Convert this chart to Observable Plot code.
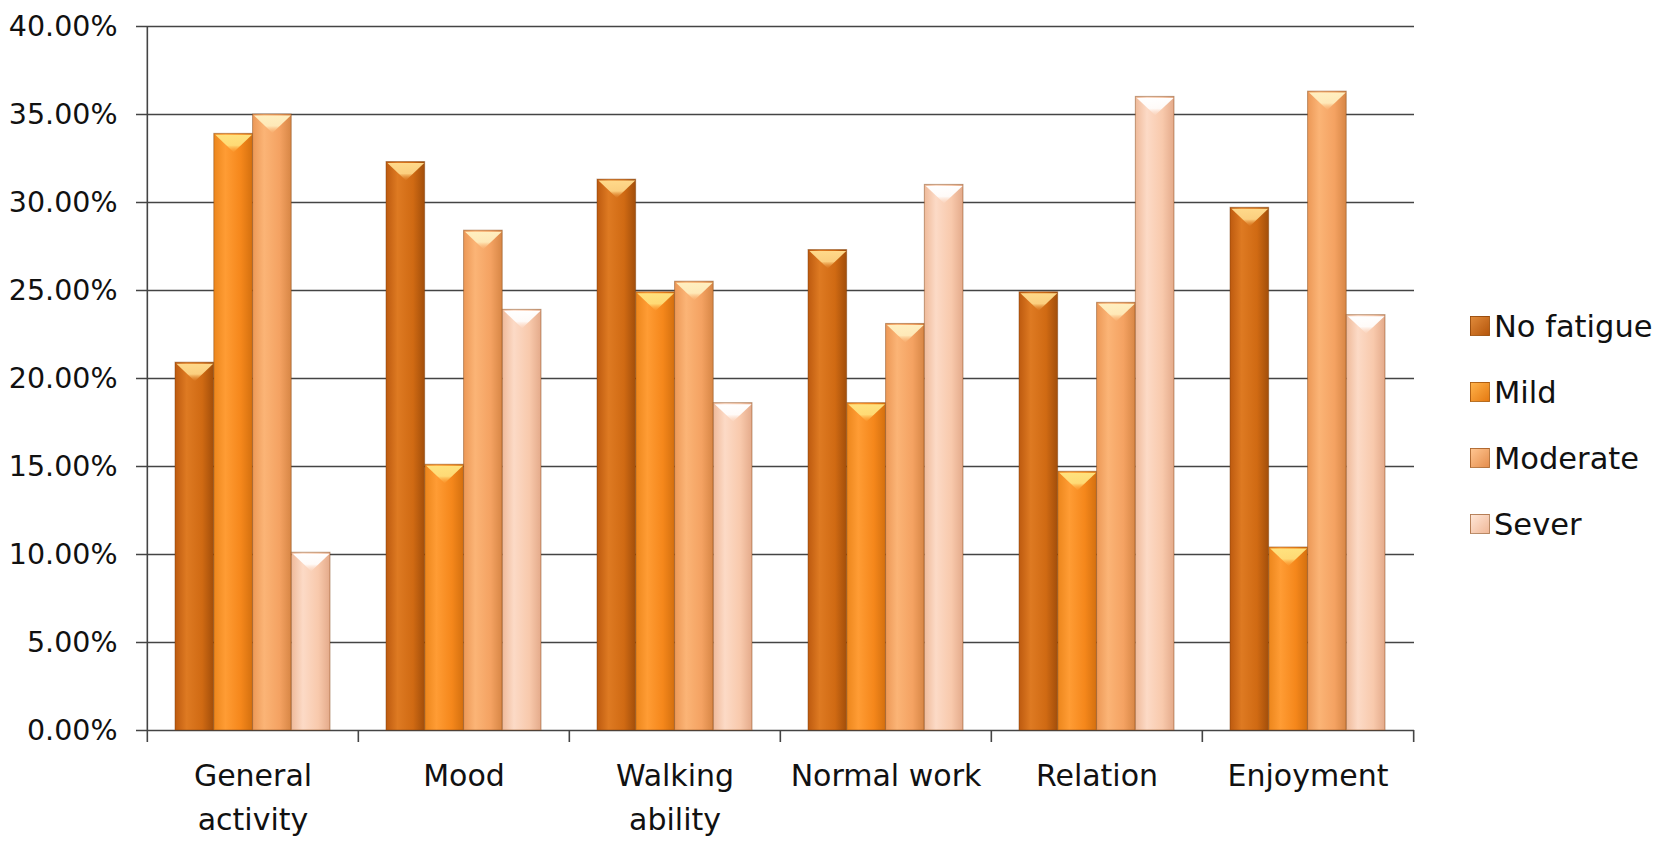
<!DOCTYPE html>
<html>
<head>
<meta charset="utf-8">
<script src="https://cdn.jsdelivr.net/npm/d3@7"></script>
<script src="https://cdn.jsdelivr.net/npm/@observablehq/plot@0.6"></script>
<style>
  body { margin: 0; background: #fff; }
  #wrap { position: relative; width: 1654px; height: 849px; font-family: "DejaVu Sans", sans-serif; }
  #legend { position: absolute; left: 1470px; top: 293px; }
  .row { display: flex; align-items: center; height: 66px; font-size: 30.5px; color: #111; }
  .sw { width: 20px; height: 20px; margin-right: 4px; box-sizing: border-box; border: 1px solid rgba(120,60,10,0.5); }
</style>
</head>
<body>
<div id="wrap"><div id="legend"></div></div>
<script>
// ---- data ----
const categories = ["General activity", "Mood", "Walking ability", "Normal work", "Relation", "Enjoyment"];
const categoryLabels = ["General\nactivity", "Mood", "Walking\nability", "Normal work", "Relation", "Enjoyment"];
const series = ["No fatigue", "Mild", "Moderate", "Sever"];
const noFatigue = [20.9, 32.3, 31.3, 27.3, 24.9, 29.7];
const mild      = [33.9, 15.1, 24.9, 18.6, 14.7, 10.4];
const moderate  = [35.0, 28.4, 25.5, 23.1, 24.3, 36.3];
const sever     = [10.1, 23.9, 18.6, 31.0, 36.0, 23.6];
const yTicks = [0, 5, 10, 15, 20, 25, 30, 35, 40];

// ---- styles ----
const seriesValues = [noFatigue, mild, moderate, sever];
const bodyStops = [
  ["#BD5A0F", "#DE7A22", "#D06A13", "#A24E0A"],
  ["#EC861C", "#FF9C34", "#F5871B", "#D4700F"],
  ["#EC9856", "#FBB476", "#F4A262", "#D78645"],
  ["#EFBA9A", "#FCDAC6", "#F8C9AC", "#E4AA8A"]
];
const capTop = ["#FFD98A", "#FFE27E", "#FFEFC0", "#FFFFFF"];
const swatchCss = [
  "linear-gradient(135deg,#E08A3A,#B5560C)",
  "linear-gradient(135deg,#FFB24A,#E57A12)",
  "linear-gradient(135deg,#FFC590,#E58E4E)",
  "linear-gradient(135deg,#FFE6D6,#F0B898)"
];

const W = 1654, H = 849, mL = 146, mR = 240, mT = 26, mB = 119;
const pInner = 0.266, pOuter = 0.133;
const xs = Plot.scale({x: {type: "band", domain: categories, range: [mL, W - mR], paddingInner: pInner, paddingOuter: pOuter}});
const bw = xs.bandwidth, step = xs.step;
const sub = bw / 4;
const labelOf = new Map(categories.map((c, i) => [c, categoryLabels[i]]));

const NS = "http://www.w3.org/2000/svg";
function defsMark() {
  const defs = document.createElementNS(NS, "defs");
  bodyStops.forEach((stops, k) => {
    const g = document.createElementNS(NS, "linearGradient");
    g.setAttribute("id", "g" + k);
    g.setAttribute("x1", "0"); g.setAttribute("x2", "1"); g.setAttribute("y1", "0"); g.setAttribute("y2", "0");
    [0, 0.3, 0.7, 1].forEach((o, j) => {
      const s = document.createElementNS(NS, "stop");
      s.setAttribute("offset", o); s.setAttribute("stop-color", stops[j]);
      g.appendChild(s);
    });
    defs.appendChild(g);
    const c = document.createElementNS(NS, "linearGradient");
    c.setAttribute("id", "c" + k);
    c.setAttribute("x1", "0"); c.setAttribute("x2", "0"); c.setAttribute("y1", "0"); c.setAttribute("y2", "1");
    [[0, capTop[k], 1], [0.6, capTop[k], 0.9], [1, stops[1], 0.3]].forEach(([o, col, op]) => {
      const s = document.createElementNS(NS, "stop");
      s.setAttribute("offset", o); s.setAttribute("stop-color", col); s.setAttribute("stop-opacity", op);
      c.appendChild(s);
    });
    defs.appendChild(c);
  });
  return defs;
}

const capSymbol = {
  draw(ctx, size) {
    const r = Math.sqrt(size / Math.PI);
    ctx.moveTo(-r, 0);
    ctx.lineTo(r, 0);
    ctx.lineTo(0, 0.95 * r);
    ctx.closePath();
  }
};

const marks = [
  defsMark,
  Plot.ruleY(yTicks, {stroke: "#444", strokeWidth: 1.6, insetLeft: -10}),
  Plot.ruleX([categories[0]], {dx: -step / 2, stroke: "#444", strokeWidth: 1.6}),
  Plot.ruleX(categories, {y1: 0, y2: 0, insetBottom: -12, dx: -step / 2, stroke: "#444", strokeWidth: 1.6}),
  Plot.ruleX([categories[categories.length - 1]], {y1: 0, y2: 0, insetBottom: -12, dx: step / 2, stroke: "#444", strokeWidth: 1.6})
];
seriesValues.forEach((vals, k) => {
  const rows = categories.map((c, i) => ({cat: c, v: vals[i]}));
  marks.push(Plot.barY(rows, {
    x: "cat", y: "v", fill: `url(#g${k})`,
    stroke: "#7a3c08", strokeOpacity: 0.45, strokeWidth: 1,
    insetLeft: k * sub, insetRight: (3 - k) * sub
  }));
  marks.push(Plot.dot(rows, {
    x: "cat", y: "v", symbol: capSymbol, r: sub / 2 - 1,
    dx: (k + 0.5) * sub - bw / 2, dy: 1,
    fill: `url(#c${k})`, stroke: "none"
  }));
});
marks.push(Plot.axisY(yTicks, {
  tickSize: 0, tickPadding: 29, label: null, fontSize: 28.5, fill: "#111",
  tickFormat: d => d.toFixed(2) + "%"
}));
marks.push(Plot.axisX({
  tickSize: 0, tickPadding: 25, label: null, fontSize: 30, fill: "#111", lineHeight: 1.45,
  tickFormat: d => labelOf.get(d)
}));

const chart = Plot.plot({
  width: W, height: H,
  marginLeft: mL, marginRight: mR, marginTop: mT, marginBottom: mB,
  style: {fontFamily: "DejaVu Sans, sans-serif", background: "#fff"},
  x: {type: "band", domain: categories, paddingInner: pInner, paddingOuter: pOuter, axis: null},
  y: {domain: [0, 40], axis: null},
  marks
});
document.getElementById("wrap").prepend(chart);

const legend = document.getElementById("legend");
series.forEach((s, k) => {
  const row = document.createElement("div");
  row.className = "row";
  const sw = document.createElement("div");
  sw.className = "sw";
  sw.style.background = swatchCss[k];
  const t = document.createElement("span");
  t.textContent = s;
  row.appendChild(sw); row.appendChild(t);
  legend.appendChild(row);
});
</script>
</body>
</html>
